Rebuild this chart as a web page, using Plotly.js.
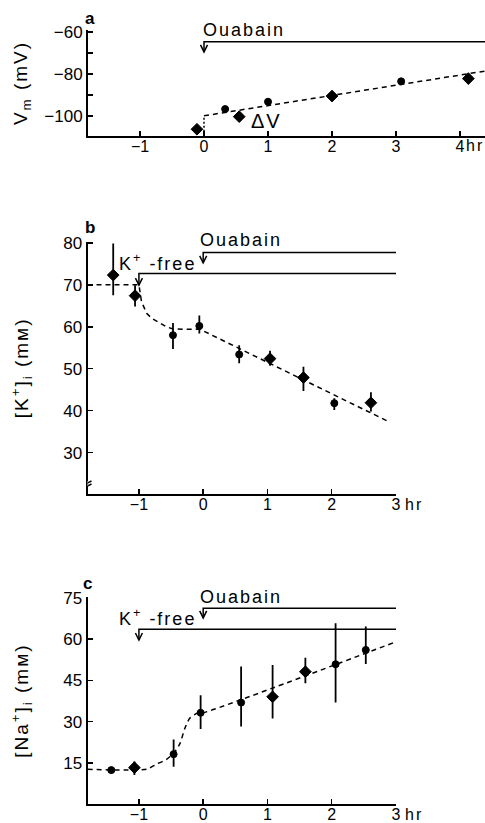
<!DOCTYPE html>
<html>
<head>
<meta charset="utf-8">
<script src="https://cdn.plot.ly/plotly-3.0.1.min.js"></script>
<style>
  html, body { margin: 0; padding: 0; background: #fff; }
  #chart { width: 485px; height: 823px; }
  .ytitle, .y2title, .y3title { letter-spacing: 2px; }
  .annotation-text { letter-spacing: 2px; }
</style>
</head>
<body>
<div id="chart"></div>
<script>
// ---------- Panel a : membrane potential ----------
const aTime = [-0.11, 0.33, 0.55, 1.0, 2.0, 3.08, 4.13];
const aVm = [-106.3, -96.7, -100.3, -93.2, -90.5, -83.5, -82.2];
const aSymbol = ['diamond', 'circle', 'diamond', 'circle', 'diamond', 'circle', 'diamond'];
const aFitTime = [0, 4.39];
const aFitVm = [-99.9, -78.6];
const aStepTime = [0, 0];
const aStepVm = [-107.5, -99.9];
const aTickVals = [-1, 0, 1, 2, 3, 4];
const aTickText = ['\u22121', '0', '1', '2', '3', '4'];
const aYTickVals = [-100, -90, -80, -70, -60];
const aYTickText = ['\u2212100', ' ', '\u221280', ' ', '\u221260'];

// ---------- Panel b : [K+]i ----------
const bTime = [-1.40, -1.06, -0.47, -0.06, 0.56, 1.04, 1.56, 2.04, 2.61];
const bK = [72.3, 67.4, 58.0, 60.2, 53.4, 52.4, 47.9, 41.8, 41.9];
const bErrPlus = [7.5, 2.5, 2.9, 2.5, 2.2, 1.9, 2.6, 1.2, 2.5];
const bErrMinus = [4.8, 2.6, 3.3, 1.8, 2.1, 1.7, 3.2, 1.6, 2.1];
const bSymbol = ['diamond', 'diamond', 'circle', 'circle', 'circle', 'diamond', 'diamond', 'circle', 'diamond'];
const bFitTime = [-1.80, -1.0, -0.96, -0.88, -0.80, -0.675, -0.57, -0.47, -0.05, 2.86];
const bFitK = [70, 70, 66.0, 63.2, 62.0, 60.8, 60.0, 59.45, 59.4, 37.6];
const bYTickVals = [30, 40, 50, 60, 70, 80];
const bYTickText = ['30', '40', '50', '60', '70', '80'];

// ---------- Panel c : [Na+]i ----------
const cTime = [-1.43, -1.07, -0.46, -0.04, 0.59, 1.08, 1.59, 2.06, 2.53];
const cNa = [12.4, 13.3, 18.2, 33.2, 36.9, 39.0, 48.1, 50.8, 56.0];
const cErrPlus = [0, 2.2, 5.3, 6.4, 13.1, 11.5, 5.1, 14.9, 8.5];
const cErrMinus = [0, 2.7, 4.6, 5.9, 8.7, 7.9, 4.2, 13.9, 5.1];
const cSymbol = ['circle', 'diamond', 'circle', 'circle', 'circle', 'diamond', 'diamond', 'circle', 'circle'];
const cFitTime = [-1.80, -0.88, -0.73, -0.57, -0.44, -0.36, -0.285, -0.21, -0.10, 0, 2.96];
const cFitNa = [12.7, 12.7, 14.5, 16.3, 19.1, 22.1, 27.6, 31.2, 33.0, 33.2, 58.6];
const cYTickVals = [15, 30, 45, 60, 75];
const cYTickText = ['15', '30', '45', '60', '75'];

const bcTickVals = [-1, 0, 1, 2, 3];
const bcTickText = ['\u22121', '0', '1', '2', '3'];

// treatments
const treatName = ['Ouabain', 'K<sup>+</sup> -free'];
const treatStart = [0, -1];

const FONT = 'Liberation Sans, Arial, Helvetica, sans-serif';
const W = 485, H = 823;

function markerTrace(x, y, sym, xa, ya, ep, em) {
  const t = {
    x: x, y: y, xaxis: xa, yaxis: ya, type: 'scatter', mode: 'markers',
    marker: { color: '#000', opacity: 1, symbol: sym, size: sym.map(s => s === 'diamond' ? 9 : 7),
      line: { color: '#000', width: 1 } },
    cliponaxis: false, hoverinfo: 'skip'
  };
  if (ep) {
    t.error_y = { type: 'data', symmetric: false, array: ep, arrayminus: em, width: 0, thickness: 1.8, color: '#000' };
  }
  return t;
}
function lineTrace(x, y, xa, ya, dash, shape) {
  return {
    x: x, y: y, xaxis: xa, yaxis: ya, type: 'scatter', mode: 'lines',
    line: { color: '#000', width: 1.5, dash: dash, shape: shape || 'linear', smoothing: 0.6 },
    cliponaxis: false, hoverinfo: 'skip'
  };
}

const data = [
  lineTrace(aFitTime, aFitVm, 'x', 'y', '5px,4px'),
  lineTrace(aStepTime, aStepVm, 'x', 'y', '2px,2px'),
  markerTrace(aTime, aVm, aSymbol, 'x', 'y'),
  lineTrace(bFitTime, bFitK, 'x2', 'y2', '5px,4px'),
  markerTrace(bTime, bK, bSymbol, 'x2', 'y2', bErrPlus, bErrMinus),
  lineTrace(cFitTime, cFitNa, 'x3', 'y3', '5px,4px', 'spline'),
  markerTrace(cTime, cNa, cSymbol, 'x3', 'y3', cErrPlus, cErrMinus)
];

function axisBase(fs) {
  return {
    showline: true, linecolor: '#000', linewidth: 2, mirror: false,
    ticks: 'inside', ticklen: 5, tickwidth: 1.5, tickcolor: '#000',
    showgrid: false, zeroline: false, fixedrange: true,
    tickfont: { family: FONT, size: fs, color: '#000' }, tickmode: 'array'
  };
}

// axis geometry (pixel boxes) used to place the text labels
const geo = {
  a: { x0: 88, x1: 485, r: [-1.8125, 4.39], yTop: 30, yBot: 136, yr: [-109.52, -59.05] },
  b: { x0: 87.5, x1: 396, r: [-1.80, 3.0], yTop: 241.5, yBot: 494.3, yr: [20.1, 80.3] },
  c: { x0: 87.5, x1: 396, r: [-1.80, 3.0], yTop: 597, yBot: 804.3, yr: [0, 75.2] }
};
function pxX(p, v) { const g = geo[p]; return g.x0 + (v - g.r[0]) / (g.r[1] - g.r[0]) * (g.x1 - g.x0); }
function paperX(px) { return px / W; }
function paperY(py) { return 1 - py / H; }

const shapes = [];
const annotations = [];
function label(px, py, text, anchor, size, vanchor) {
  annotations.push({ xref: 'paper', yref: 'paper', x: paperX(px), y: paperY(py),
    xanchor: anchor, yanchor: vanchor || 'middle', text: text, showarrow: false,
    font: { family: FONT, size: size, color: '#000' } });
}
// treatment bar: horizontal line + stem + open arrow head, plus its label
function treatment(i, p, xa, ya, xEnd, lineY, tipY, textY, textDx, anchor) {
  shapes.push({ type: 'path', xref: xa, yref: ya, layer: 'above',
    path: `M${treatStart[i]},${tipY} L${treatStart[i]},${lineY} L${xEnd},${lineY}`,
    line: { color: '#000', width: 1.5 } });
  shapes.push({ type: 'path', xref: xa, yref: ya, layer: 'above',
    xsizemode: 'pixel', ysizemode: 'pixel', xanchor: treatStart[i], yanchor: tipY,
    path: 'M-3.5,7 L0,0 L3.5,7', line: { color: '#000', width: 1.5 } });
  label(pxX(p, treatStart[i]) + textDx, textY, treatName[i], anchor, 18);
}
treatment(0, 'a', 'x', 'y', 4.39, -64.6, -69.5, 30, -3, 'left');
treatment(0, 'b', 'x2', 'y2', 3.0, 77.7, 75.2, 240, -5, 'left');
treatment(1, 'b', 'x2', 'y2', 3.0, 72.7, 69.9, 262, 59, 'right');
treatment(0, 'c', 'x3', 'y3', 3.0, 71.1, 67.6, 597, -5, 'left');
treatment(1, 'c', 'x3', 'y3', 3.0, 63.5, 59.6, 617.5, 59, 'right');

// axis break on panel b
shapes.push({ type: 'rect', xref: 'x2', yref: 'y2', layer: 'above', xsizemode: 'pixel', ysizemode: 'pixel',
  xanchor: -1.80, yanchor: 22.55, x0: -4, x1: 4, y0: -2, y1: 3, fillcolor: 'white', line: { width: 0 } });
shapes.push({ type: 'path', xref: 'x2', yref: 'y2', layer: 'above', xsizemode: 'pixel', ysizemode: 'pixel',
  xanchor: -1.80, yanchor: 22.55, path: 'M-4,-1 L4,3', line: { color: '#000', width: 1.5 } });
shapes.push({ type: 'path', xref: 'x2', yref: 'y2', layer: 'above', xsizemode: 'pixel', ysizemode: 'pixel',
  xanchor: -1.80, yanchor: 22.55, path: 'M-4,-4 L4,0', line: { color: '#000', width: 1.5 } });

// ΔV label
label(249, 120.5, '\u0394V', 'left', 20);
// hr unit labels (after the last tick)
label(pxX('a', 4) + 4, geo.a.yBot + 10, 'hr', 'left', 16);
label(pxX('b', 3) + 7, geo.b.yBot + 10, 'hr', 'left', 16);
label(pxX('c', 3) + 7, geo.c.yBot + 10, 'hr', 'left', 16);
// panel letters
label(90, 18, '<b>a</b>', 'center', 17);
label(91, 227, '<b>b</b>', 'center', 17);
label(88, 583, '<b>c</b>', 'center', 17);

const layout = {
  width: W, height: H, margin: { l: 0, r: 0, t: 0, b: 0 },
  paper_bgcolor: 'white', plot_bgcolor: 'white', showlegend: false,
  font: { family: FONT, color: '#000' },
  xaxis: Object.assign(axisBase(16), { domain: [geo.a.x0 / W, geo.a.x1 / W], range: geo.a.r, anchor: 'y',
    tickvals: aTickVals, ticktext: aTickText, ticklabelstandoff: -5 }),
  yaxis: Object.assign(axisBase(17), { domain: [1 - geo.a.yBot / H, 1 - geo.a.yTop / H], range: geo.a.yr, anchor: 'x',
    tickvals: aYTickVals, ticktext: aYTickText,
    title: { text: 'V<sub>m</sub> (mV)', standoff: 12, font: { family: FONT, size: 19, color: '#000' } } }),
  xaxis2: Object.assign(axisBase(16), { domain: [geo.b.x0 / W, geo.b.x1 / W], range: geo.b.r, anchor: 'y2',
    tickvals: bcTickVals, ticktext: bcTickText, ticklabelstandoff: -6 }),
  yaxis2: Object.assign(axisBase(17), { domain: [1 - geo.b.yBot / H, 1 - geo.b.yTop / H], range: geo.b.yr, anchor: 'x2',
    tickvals: bYTickVals, ticktext: bYTickText,
    title: { text: '[K<sup>+</sup>]<sub>i</sub> (m\u1D0D)', standoff: 30, font: { family: FONT, size: 19, color: '#000' } } }),
  xaxis3: Object.assign(axisBase(16), { domain: [geo.c.x0 / W, geo.c.x1 / W], range: geo.c.r, anchor: 'y3',
    tickvals: bcTickVals, ticktext: bcTickText, ticklabelstandoff: -6 }),
  yaxis3: Object.assign(axisBase(17), { domain: [1 - geo.c.yBot / H, 1 - geo.c.yTop / H], range: geo.c.yr, anchor: 'x3',
    tickvals: cYTickVals, ticktext: cYTickText,
    title: { text: '[Na<sup>+</sup>]<sub>i</sub> (m\u1D0D)', standoff: 30, font: { family: FONT, size: 19, color: '#000' } } }),
  shapes: shapes,
  annotations: annotations
};

Plotly.newPlot('chart', data, layout, { staticPlot: true, displayModeBar: false });
</script>
</body>
</html>
